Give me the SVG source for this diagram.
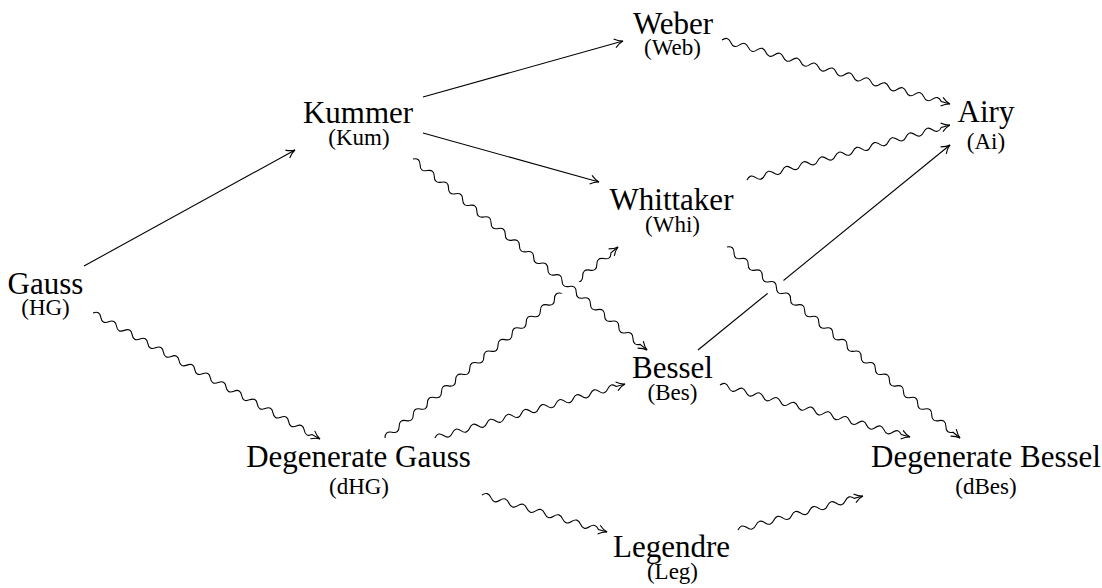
<svg xmlns="http://www.w3.org/2000/svg" width="1102" height="588" viewBox="0 0 1102 588">
<style>
.lbl{font-family:"Liberation Serif","Times New Roman",serif;font-size:31px;text-anchor:middle;fill:#000}
.sub{font-size:23px}
.edge{fill:none;stroke:#000;stroke-width:1.1}
.gap{fill:none;stroke:#fff;stroke-width:20}
</style>
<defs>
<marker id="ah" markerUnits="userSpaceOnUse" markerWidth="20" markerHeight="20" viewBox="-10 -10 20 20" refX="0" refY="0" orient="auto" overflow="visible">
<path d="M-8.5,-4.5 C-5.5,-2 -2,-0.4 0,0 C-2,0.4 -5.5,2 -8.5,4.5" fill="none" stroke="#000" stroke-width="1.1"/>
</marker>
</defs>
<rect width="1102" height="588" fill="#fff"/>
<g id="connectors">
<path class="edge" d="M84,266 L295,150" marker-end="url(#ah)"/>
<path class="edge" d="M423,97 L623,41" marker-end="url(#ah)"/>
<path class="edge" d="M423,133 L599,182" marker-end="url(#ah)"/>
<path class="edge" d="M698,350 L950,145" marker-end="url(#ah)"/>
<path class="edge" transform="translate(722,40) rotate(15.68)" marker-end="url(#ah)" d="M0,0q4.56,-5.6 9.11,0t9.11,0t9.11,0t9.11,0t9.11,0t9.11,0t9.11,0t9.11,0t9.11,0t9.11,0t9.11,0t9.11,0t9.11,0t9.11,0t9.11,0t9.11,0t9.11,0t9.11,0t9.11,0t9.11,0t9.11,0t9.11,0t9.11,0t9.11,0t9.11,0L236.8,0"/>
<path class="edge" transform="translate(747,180) rotate(-15.16)" marker-end="url(#ah)" d="M0,0q4.58,-5.6 9.15,0t9.15,0t9.15,0t9.15,0t9.15,0t9.15,0t9.15,0t9.15,0t9.15,0t9.15,0t9.15,0t9.15,0t9.15,0t9.15,0t9.15,0t9.15,0t9.15,0t9.15,0t9.15,0t9.15,0t9.15,0t9.15,0L210.3,0"/>
<path class="edge" transform="translate(93,313) rotate(29.03)" marker-end="url(#ah)" d="M0,0q4.48,-5.6 8.95,0t8.95,0t8.95,0t8.95,0t8.95,0t8.95,0t8.95,0t8.95,0t8.95,0t8.95,0t8.95,0t8.95,0t8.95,0t8.95,0t8.95,0t8.95,0t8.95,0t8.95,0t8.95,0t8.95,0t8.95,0t8.95,0t8.95,0t8.95,0t8.95,0t8.95,0t8.95,0t8.95,0L259.6,0"/>
<path class="edge" transform="translate(385,438) rotate(-39.34)" marker-end="url(#ah)" d="M0,0q4.57,-5.6 9.13,0t9.13,0t9.13,0t9.13,0t9.13,0t9.13,0t9.13,0t9.13,0t9.13,0t9.13,0t9.13,0t9.13,0t9.13,0t9.13,0t9.13,0t9.13,0t9.13,0t9.13,0t9.13,0t9.13,0t9.13,0t9.13,0t9.13,0t9.13,0t9.13,0t9.13,0t9.13,0t9.13,0t9.13,0t9.13,0t9.13,0t9.13,0L301.3,0"/>
<line class="gap" x1="557.9" y1="277.2" x2="581.1" y2="296.2"/>
<path class="edge" transform="translate(413,159) rotate(39.22)" marker-end="url(#ah)" d="M0,0q4.58,-5.6 9.16,0t9.16,0t9.16,0t9.16,0t9.16,0t9.16,0t9.16,0t9.16,0t9.16,0t9.16,0t9.16,0t9.16,0t9.16,0t9.16,0t9.16,0t9.16,0t9.16,0t9.16,0t9.16,0t9.16,0t9.16,0t9.16,0t9.16,0t9.16,0t9.16,0t9.16,0t9.16,0t9.16,0t9.16,0t9.16,0t9.16,0t9.16,0L302.1,0"/>
<line class="gap" x1="764" y1="277.4" x2="787.2" y2="296.4"/>
<path class="edge" transform="translate(727,247) rotate(39.34)" marker-end="url(#ah)" d="M0,0q4.57,-5.6 9.13,0t9.13,0t9.13,0t9.13,0t9.13,0t9.13,0t9.13,0t9.13,0t9.13,0t9.13,0t9.13,0t9.13,0t9.13,0t9.13,0t9.13,0t9.13,0t9.13,0t9.13,0t9.13,0t9.13,0t9.13,0t9.13,0t9.13,0t9.13,0t9.13,0t9.13,0t9.13,0t9.13,0t9.13,0t9.13,0t9.13,0t9.13,0L301.3,0"/>
<path class="edge" transform="translate(435,438) rotate(-15.87)" marker-end="url(#ah)" d="M0,0q4.49,-5.6 8.98,0t8.98,0t8.98,0t8.98,0t8.98,0t8.98,0t8.98,0t8.98,0t8.98,0t8.98,0t8.98,0t8.98,0t8.98,0t8.98,0t8.98,0t8.98,0t8.98,0t8.98,0t8.98,0t8.98,0t8.98,0L197.5,0"/>
<path class="edge" transform="translate(720,385) rotate(15.31)" marker-end="url(#ah)" d="M0,0q4.48,-5.6 8.95,0t8.95,0t8.95,0t8.95,0t8.95,0t8.95,0t8.95,0t8.95,0t8.95,0t8.95,0t8.95,0t8.95,0t8.95,0t8.95,0t8.95,0t8.95,0t8.95,0t8.95,0t8.95,0t8.95,0t8.95,0L197,0"/>
<path class="edge" transform="translate(482,495) rotate(16.49)" marker-end="url(#ah)" d="M0,0q4.67,-5.6 9.34,0t9.34,0t9.34,0t9.34,0t9.34,0t9.34,0t9.34,0t9.34,0t9.34,0t9.34,0t9.34,0t9.34,0t9.34,0L130.4,0"/>
<path class="edge" transform="translate(738,530) rotate(-15.22)" marker-end="url(#ah)" d="M0,0q4.64,-5.6 9.27,0t9.27,0t9.27,0t9.27,0t9.27,0t9.27,0t9.27,0t9.27,0t9.27,0t9.27,0t9.27,0t9.27,0t9.27,0L129.5,0"/>
</g>
<g id="node-weber"><text class="lbl" x="673" y="34">Weber</text><text class="lbl sub" x="672.5" y="55">(Web)</text></g>
<g id="node-kummer"><text class="lbl" x="358" y="123">Kummer</text><text class="lbl sub" x="359" y="145">(Kum)</text></g>
<g id="node-airy"><text class="lbl" x="986" y="122">Airy</text><text class="lbl sub" x="986" y="149">(Ai)</text></g>
<g id="node-whittaker"><text class="lbl" x="671.5" y="210">Whittaker</text><text class="lbl sub" x="672.5" y="232">(Whi)</text></g>
<g id="node-gauss"><text class="lbl" x="45.5" y="294">Gauss</text><text class="lbl sub" x="45.5" y="315">(HG)</text></g>
<g id="node-bessel"><text class="lbl" x="672.5" y="378">Bessel</text><text class="lbl sub" x="672.5" y="400">(Bes)</text></g>
<g id="node-dgauss"><text class="lbl" x="358.5" y="467">Degenerate Gauss</text><text class="lbl sub" x="359" y="494">(dHG)</text></g>
<g id="node-dbessel"><text class="lbl" x="986" y="467">Degenerate Bessel</text><text class="lbl sub" x="986" y="494">(dBes)</text></g>
<g id="node-legendre"><text class="lbl" x="671.5" y="557">Legendre</text><text class="lbl sub" x="672.5" y="579">(Leg)</text></g>
</svg>
